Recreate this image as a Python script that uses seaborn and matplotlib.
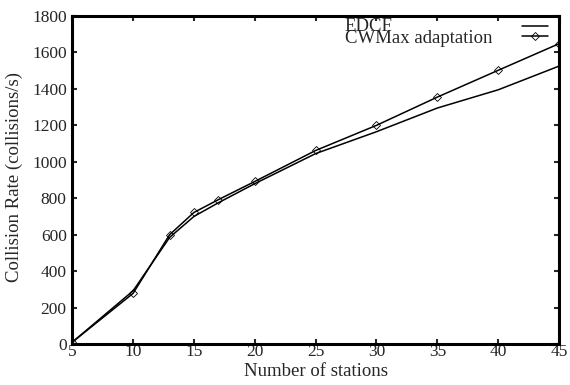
import pandas as pd
import numpy as np
import matplotlib
matplotlib.use('Agg')
import matplotlib.pyplot as plt
from matplotlib.lines import Line2D
import seaborn as sns

# valores
stations = [5, 10, 13, 15, 17, 20, 25, 30, 35, 40, 45]
edcf = [10, 292, 585, 700, 775, 880, 1045, 1165, 1295, 1395, 1525]
cwmax = [10, 278, 600, 722, 792, 892, 1062, 1200, 1355, 1502, 1648]
xticks = [5, 10, 15, 20, 25, 30, 35, 40, 45]
yticks = [0, 200, 400, 600, 800, 1000, 1200, 1400, 1600, 1800]
labels = ['EDCF', 'CWMax adaptation']

sns.set_style('ticks')
plt.rcParams['font.family'] = ['Liberation Serif', 'DejaVu Serif']

df = pd.DataFrame({'stations': stations, 'EDCF': edcf, 'CWMax adaptation': cwmax})

fig = plt.figure(figsize=(5.7, 3.85), dpi=100)
ax = fig.add_axes([0.1268, 0.1065, 0.8539, 0.8519])

sns.lineplot(data=df, x='stations', y='EDCF', ax=ax, color='black',
             linewidth=1.1, legend=False)
sns.lineplot(data=df, x='stations', y='CWMax adaptation', ax=ax, color='black',
             linewidth=1.1, marker='D', markersize=4.5, markerfacecolor='none',
             markeredgecolor='black', markeredgewidth=0.6, legend=False)

ax.set_xlim(5, 45)
ax.set_ylim(0, 1800)
ax.set_xticks(xticks)
ax.set_yticks(yticks)
ax.set_xlabel('Number of stations', fontsize=13.5)
ax.set_ylabel('Collision Rate (collisions/s)', fontsize=13.5)
ax.xaxis.set_label_coords(0.5007, -0.058)
ax.yaxis.set_label_coords(-0.101, 0.51)
ax.tick_params(direction='in', length=3.5, width=1.5, top=True, right=True,
               labelsize=12.5)
ax.tick_params(axis='x', pad=0)
ax.tick_params(axis='y', pad=4)
for s in ax.spines.values():
    s.set_linewidth(2.2)
    s.set_color('black')

# legenda estilo gnuplot: texto à esquerda, amostras à direita
handles = [Line2D([], [], color='black', linewidth=1.1),
           Line2D([], [], color='black', linewidth=1.1, marker='D', markersize=4.5,
                  markerfacecolor='none', markeredgewidth=0.6)]
ax.legend(handles, ['', ''], loc='upper right', bbox_to_anchor=(0.977, 0.98),
          frameon=False, borderpad=0, borderaxespad=0, labelspacing=0.0,
          handlelength=2.35, handletextpad=0, fontsize=8)
ax.text(0.560, 0.955, labels[0], transform=ax.transAxes, fontsize=13.5,
        va='baseline', ha='left')
ax.text(0.560, 0.918, labels[1], transform=ax.transAxes, fontsize=13.5,
        va='baseline', ha='left')

plt.savefig('out.png', dpi=100)
